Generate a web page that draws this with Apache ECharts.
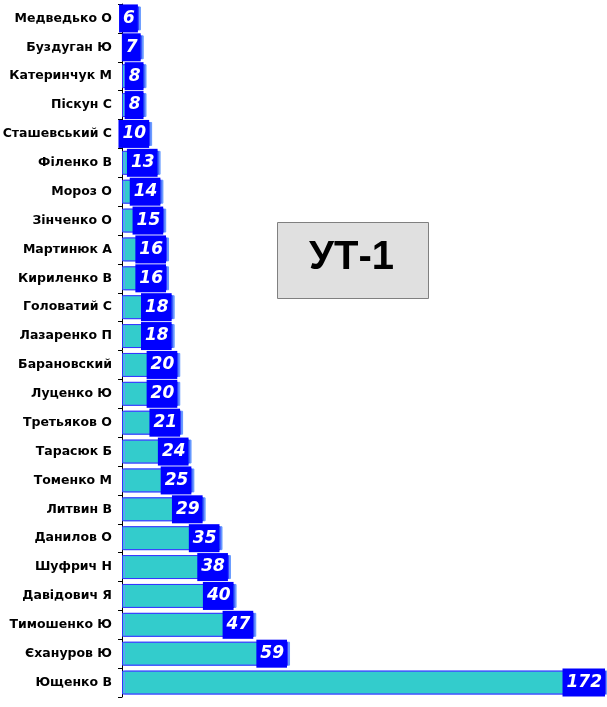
<!DOCTYPE html>
<html><head><meta charset="utf-8">
<script src="https://cdn.jsdelivr.net/npm/echarts@6/dist/echarts.min.js"></script>
<style>html,body{margin:0;padding:0;background:#fff}#c{width:607px;height:707px}</style>
</head><body><div id="c"></div>
<script>
const categories = ["Медведько О","Буздуган Ю","Катеринчук М","Піскун С","Сташевський С","Філенко В","Мороз О","Зінченко О","Мартинюк А","Кириленко В","Головатий С","Лазаренко П","Барановский","Луценко Ю","Третьяков О","Тарасюк Б","Томенко М","Литвин В","Данилов О","Шуфрич Н","Давідович Я","Тимошенко Ю","Єхануров Ю","Ющенко В"];
const values = [6,7,8,8,10,13,14,15,16,16,18,18,20,20,21,24,25,29,35,38,40,47,59,172];
const titleText = "УТ-1";

const chart = echarts.init(document.getElementById('c'));
chart.setOption({
  animation: false,
  grid: {left: 122, right: 1, top: 4, bottom: 10, containLabel: false, outerBoundsMode: 'none'},
  xAxis: {type: 'value', min: 0, max: 172, show: false},
  yAxis: {
    type: 'category', data: categories, inverse: true,
    axisLine: {lineStyle: {color: '#000', width: 1}},
    axisTick: {show: true, length: 4, lineStyle: {color: '#000'}},
    axisLabel: {color: '#000', fontFamily: 'DejaVu Sans', fontWeight: 'bold', fontSize: 12.5, margin: 10}
  },
  series: [{
    type: 'bar', data: values, barCategoryGap: '17%',
    itemStyle: {color: '#33CCCC', borderColor: '#3333FF', borderWidth: 1,
      shadowColor: '#6699FF', shadowOffsetX: 2, shadowBlur: 0},
    label: {show: true, position: 'insideRight', distance: 1,
      color: '#fff', fontFamily: 'DejaVu Sans', fontStyle: 'italic', fontWeight: 'bold', fontSize: 17, lineHeight: 17,
      backgroundColor: '#0000FF', padding: [6, 3, 5, 4]}
  }],
  graphic: [{
    type: 'group', left: 277, top: 222,
    children: [
      {type: 'rect', shape: {x: 0, y: 0, width: 151, height: 76}, style: {fill: '#E0E0E0', stroke: '#808080', lineWidth: 1}},
      {type: 'text', style: {x: 74, y: 35, text: titleText, align: 'center', verticalAlign: 'middle', font: 'bold 40px "Liberation Sans", Arial', fill: '#000'}}
    ]
  }]
});
</script></body></html>
